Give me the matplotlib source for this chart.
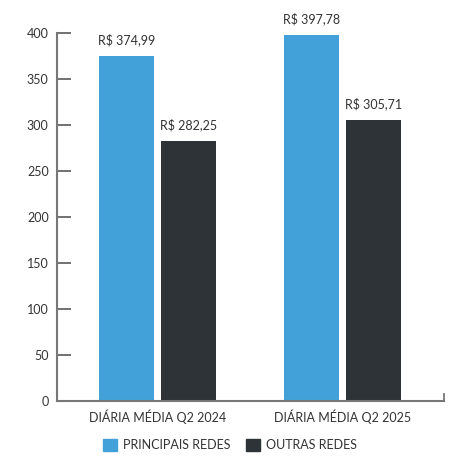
import matplotlib
matplotlib.use("Agg")
import matplotlib.pyplot as plt
from matplotlib.patches import Patch

categories = ["DIÁRIA MÉDIA Q2 2024", "DIÁRIA MÉDIA Q2 2025"]
series_names = ["PRINCIPAIS REDES", "OUTRAS REDES"]
principais = [374.99, 397.78]
outras = [282.25, 305.71]
yticks = [0, 50, 100, 150, 200, 250, 300, 350, 400]

def fmt(v):
    return "R$ " + f"{v:.2f}".replace(".", ",")

plt.rcParams['font.family'] = ['Lato', 'DejaVu Sans']
text_color = "#333333"
blue = "#42A1D8"
dark = "#2E3337"

fig = plt.figure(figsize=(4.61, 4.62), dpi=100)
ax = fig.add_axes([57/461, 61/462, 387/461, 368/462])

x = list(range(len(categories)))
w = 0.2965
off = 0.167
b1 = ax.bar([i - off for i in x], principais, width=w, color=blue)
b2 = ax.bar([i + off for i in x], outras, width=w, color=dark)

for bars, vals in ((b1, principais), (b2, outras)):
    for r, v in zip(bars, vals):
        ax.annotate(fmt(v), (r.get_x() + r.get_width()/2, v), xytext=(0, 7),
                    textcoords="offset points", ha="center", va="bottom",
                    fontsize=9, color=text_color)

ax.set_ylim(0, 400)
ax.set_xlim(-0.542, 1.545)
ax.set_yticks(yticks)
ax.set_xticks(x)
ax.set_xticklabels(categories)
ax.tick_params(axis='y', direction='in', length=10, width=1.3, color="#666666",
               labelsize=9, labelcolor=text_color, pad=6)
ax.tick_params(axis='x', length=0, labelsize=9, labelcolor=text_color, pad=6)
for s in ("top", "right"):
    ax.spines[s].set_visible(False)
for s in ("left", "bottom"):
    ax.spines[s].set_color("#777777")
    ax.spines[s].set_linewidth(1.5)
# small end tick on right of x axis
ax.plot([1.545, 1.545], [0, 8], color="#777777", lw=1.3, clip_on=False)

handles = [Patch(color=blue), Patch(color=dark)]
fig.legend(handles, series_names, loc="center", bbox_to_anchor=(230/461, 1 - 445/462),
           ncol=2, frameon=False, fontsize=9, handlelength=1.1, handleheight=1.1,
           handletextpad=0.5, columnspacing=1.2, labelcolor=text_color)

fig.savefig("out.png", dpi=100)
